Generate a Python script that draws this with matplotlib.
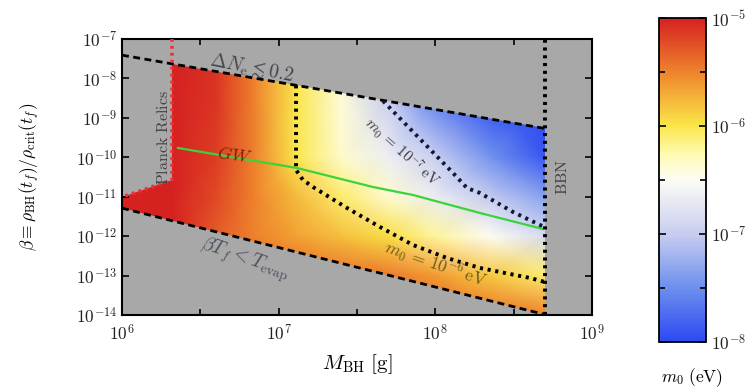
import matplotlib

matplotlib.use("Agg")
import matplotlib.pyplot as plt
import numpy as np
from matplotlib.colors import LinearSegmentedColormap, LogNorm
from matplotlib.patches import Polygon
from matplotlib.ticker import FixedLocator, NullLocator

plt.rcParams["font.family"] = "serif"
plt.rcParams["font.serif"] = ["cmr10", "DejaVu Serif"]
plt.rcParams["mathtext.fontset"] = "cm"
plt.rcParams["axes.formatter.use_mathtext"] = True

# log10 m0 [eV] sampled on a (log10 beta, log10 M) grid
GRID_LOGM = [6.0, 6.32, 6.6, 6.85, 7.11, 7.4, 7.7, 8.0, 8.35, 8.7]
GRID_LOGBETA = [-7.0, -8.5, -10.0, -11.0, -12.0, -13.0, -14.0]
LOG_M0 = [
    [-4.3, -4.7, -5.1, -5.5, -6.0, -6.4, -7.0, -7.6, -8.0, -8.4],
    [-4.3, -4.7, -5.1, -5.5, -6.0, -6.4, -7.0, -7.6, -8.0, -8.4],
    [-4.4, -4.8, -5.15, -5.5, -6.0, -6.35, -6.65, -6.98, -7.45, -7.9],
    [-4.6, -4.9, -5.2, -5.5, -5.78, -6.08, -6.37, -6.67, -7.02, -7.35],
    [-4.8, -5.0, -5.3, -5.5, -5.65, -5.8, -5.96, -6.2, -6.5, -6.85],
    [-5.0, -5.1, -5.2, -5.3, -5.35, -5.4, -5.45, -5.62, -5.85, -6.08],
    [-5.1, -5.15, -5.2, -5.22, -5.25, -5.27, -5.3, -5.33, -5.4, -5.5],
]

# constraint boundaries (log10 M, log10 beta)
DN_LOGM = [6.0, 8.70]
DN_LOGBETA = [-7.41, -9.27]
EVAP_LOGM = [6.0, 8.70]
EVAP_LOGBETA = [-11.29, -13.99]
PLANCK_LOGM = [6.319, 6.319, 6.0]
PLANCK_LOGBETA = [-7.0, -10.576, -11.007]
BBN_LOGM = 8.70

# m0 = 1e-6 eV and 1e-7 eV contours
C6_LOGM = [7.111, 7.111, 7.155, 7.219, 7.436, 7.647, 7.857, 8.074, 8.285, 8.604, 8.70]
C6_LOGBETA = [-8.175, -10.322, -10.576, -10.753, -11.286, -11.768, -12.224, -12.554, -12.808, -13.061, -13.163]
C7_LOGM = [7.666, 8.113, 8.202, 8.285, 8.496, 8.668, 8.70]
C7_LOGBETA = [-8.57, -10.398, -10.779, -10.906, -11.388, -11.717, -11.768]

# gravitational-wave line
GW_LOGM = [6.357, 7.117, 7.602, 7.857, 8.285, 8.687]
GW_LOGBETA = [-9.764, -10.272, -10.754, -10.956, -11.413, -11.819]

X_MAJOR = [1e6, 1e7, 1e8, 1e9]
Y_MAJOR = [1e-14, 1e-13, 1e-12, 1e-11, 1e-10, 1e-9, 1e-8, 1e-7]
CB_MAJOR = [1e-8, 1e-7, 1e-6, 1e-5]

cmap = LinearSegmentedColormap.from_list(
    "m0",
    [
        (0.0, (0.17, 0.29, 0.95)),
        (0.18, (0.45, 0.58, 0.93)),
        (0.33, (0.78, 0.80, 0.94)),
        (0.5, (0.99, 0.99, 0.96)),
        (0.58, (1.0, 0.98, 0.70)),
        (0.67, (0.98, 0.90, 0.28)),
        (0.82, (0.94, 0.55, 0.18)),
        (1.0, (0.84, 0.13, 0.13)),
    ],
)
norm = LogNorm(vmin=1e-8, vmax=1e-5)


def p10(v):
    return 10.0 ** np.asarray(v, dtype=float)


fig = plt.figure(figsize=(7.54, 3.91), dpi=100)
ax = fig.add_axes([0.1618, 0.1944, 0.6233, 0.7059])
cax = fig.add_axes([0.874, 0.1253, 0.0623, 0.8286])

ax.set_xscale("log")
ax.set_yscale("log")
ax.set_xlim(1e6, 1e9)
ax.set_ylim(1e-14, 1e-7)
ax.set_facecolor("#a8a8a8")

mm, bb = np.meshgrid(p10(GRID_LOGM), p10(GRID_LOGBETA))
mesh = ax.pcolormesh(mm, bb, p10(LOG_M0), cmap=cmap, norm=norm, shading="gouraud", zorder=1)

# allowed region: below Delta N, above the evaporation bound, right of Planck relics, left of BBN
dn_at_bbn = np.interp(BBN_LOGM, DN_LOGM, DN_LOGBETA)
dn_at_planck = np.interp(PLANCK_LOGM[0], DN_LOGM, DN_LOGBETA)
ev_at_bbn = np.interp(BBN_LOGM, EVAP_LOGM, EVAP_LOGBETA)
region = Polygon(
    list(zip(p10([PLANCK_LOGM[0], BBN_LOGM, BBN_LOGM, EVAP_LOGM[0], PLANCK_LOGM[2], PLANCK_LOGM[1]]),
             p10([dn_at_planck, dn_at_bbn, ev_at_bbn, EVAP_LOGBETA[0], PLANCK_LOGBETA[2], PLANCK_LOGBETA[1]]))),
    closed=True, transform=ax.transData, facecolor="none", edgecolor="none",
)
ax.add_patch(region)
mesh.set_clip_path(region)

dash = (0, (2.5, 1.6))
dots = (0, (0.8, 1.2))
ax.plot(p10(DN_LOGM), p10(DN_LOGBETA), color="black", ls=dash, lw=2, zorder=3)
ax.plot(p10(EVAP_LOGM), p10(EVAP_LOGBETA), color="black", ls=dash, lw=2, zorder=3)
ax.plot(p10(PLANCK_LOGM), p10(PLANCK_LOGBETA), color="#f03030", ls=dots, lw=2.5, zorder=3)
ax.plot(p10([BBN_LOGM, BBN_LOGM]), [1e-14, 1e-7], color="black", ls=dots, lw=2.8, zorder=3)
ax.plot(p10(C6_LOGM), p10(C6_LOGBETA), color="black", ls=dots, lw=2.8, zorder=3)
ax.plot(p10(C7_LOGM), p10(C7_LOGBETA), color="#101830", ls=dots, lw=2.8, zorder=3)
ax.plot(p10(GW_LOGM), p10(GW_LOGBETA), color="#3ad43a", lw=1.6, zorder=2)

ax.text(10**6.262, 10**-9.51, r"$\mathrm{Planck\ Relics}$", rotation=90, ha="center", va="center",
        fontsize=11.5, color="#404040", zorder=4)
ax.text(10**8.815, 10**-10.5, r"$\mathrm{BBN}$", rotation=90, ha="center", va="center",
        fontsize=11.5, color="#404040", zorder=4)
ax.text(10**6.83, 10**-7.74, r"$\Delta N_{\rm e} \lesssim 0.2$", rotation=-11, ha="center", va="center",
        fontsize=14, color="#404550", zorder=4)
ax.text(10**6.72, 10**-9.94, r"$GW$", rotation=-8, ha="center", va="center",
        fontsize=13, color="#8b1a10", zorder=4)
ax.text(10**7.79, 10**-9.87, r"$m_0\,=\,10^{-7}\,\mathrm{eV}$", rotation=-42, ha="center", va="center",
        fontsize=11, color="#383838", zorder=4)
ax.text(10**8.0, 10**-12.71, r"$m_0\,=\,10^{-6}\,\mathrm{eV}$", rotation=-19, ha="center", va="center",
        fontsize=12.5, color="#6b5a18", zorder=4)
ax.text(10**6.785, 10**-12.6, r"$\beta T_f < T_{\rm evap}$", rotation=-19, ha="center", va="center",
        fontsize=14, color="#4a5060", zorder=4)

ax.xaxis.set_major_locator(FixedLocator(X_MAJOR))
ax.yaxis.set_major_locator(FixedLocator(Y_MAJOR))
ax.xaxis.set_minor_locator(FixedLocator(p10([6.5, 7.5, 8.5])))
ax.yaxis.set_minor_locator(NullLocator())
ax.tick_params(which="both", direction="in", top=True, right=True, labelsize=12.5,
               labelcolor="#222222", width=1.2)
ax.tick_params(which="major", length=5)
ax.tick_params(which="minor", length=4)
ax.tick_params(axis="x", pad=6)
for s in ax.spines.values():
    s.set_linewidth(1.5)

ax.set_xlabel(r"$M_{\rm BH}\ [\mathrm{g}]$", fontsize=15, labelpad=6)
ax.set_ylabel(r"$\beta \equiv \rho_{\rm BH}(t_f)/\rho_{\rm crit}(t_f)$", fontsize=12.5, labelpad=24)

cb = fig.colorbar(mesh, cax=cax)
cb.set_ticks(CB_MAJOR)
cax.yaxis.set_minor_locator(FixedLocator(p10([-7.5, -6.5, -5.5])))
cax.tick_params(which="both", direction="in", left=True, right=True, labelsize=12.5,
                labelcolor="#222222", width=1.2)
cax.tick_params(which="major", length=5)
cax.tick_params(which="minor", length=4)
cb.outline.set_linewidth(1.3)
fig.text(0.918, 0.035, r"$m_0\ (\mathrm{eV})$", ha="center", va="center", fontsize=12.5)

fig.savefig("out.png", dpi=100)
